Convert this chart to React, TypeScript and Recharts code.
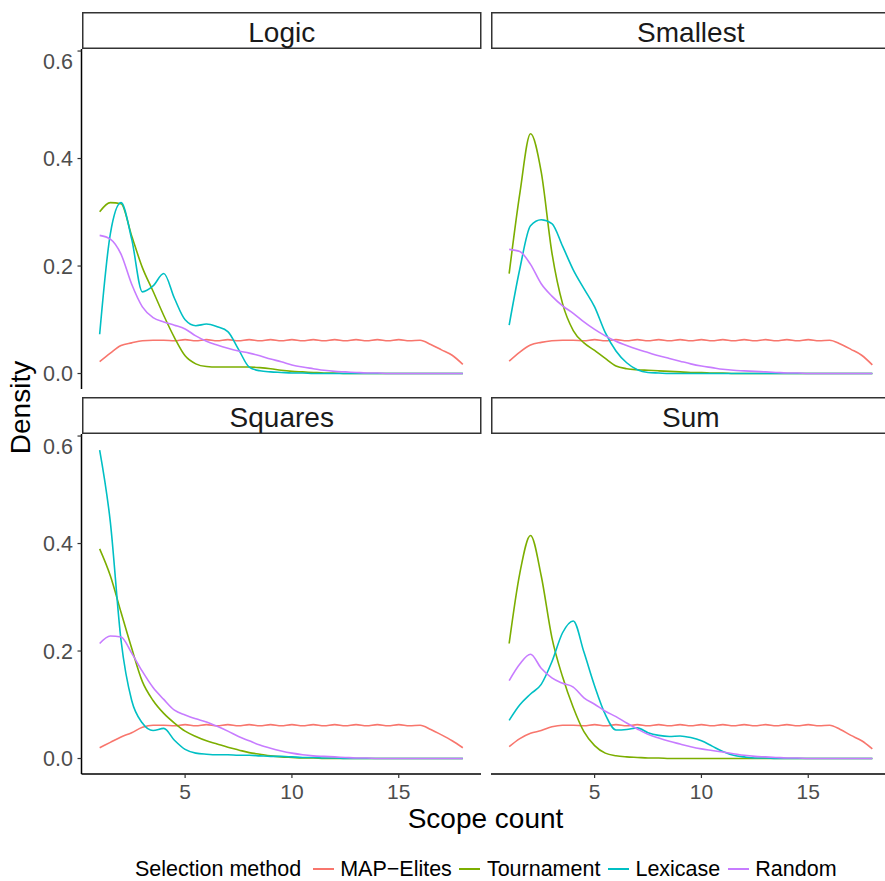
import { LineChart, Line, XAxis, YAxis } from 'recharts'

const scope = [1, 1.5, 2, 2.5, 3, 3.5, 4, 4.5, 5, 5.5, 6, 6.5, 7, 7.5, 8, 8.5, 9, 9.5, 10, 10.5, 11, 11.5, 12, 12.5, 13, 13.5, 14, 14.5, 15, 15.5, 16, 16.5, 17, 17.5, 18]

// Logic
const logicMap = [0.022, 0.038, 0.052, 0.057, 0.061, 0.062, 0.062, 0.061, 0.063, 0.061, 0.063, 0.061, 0.063, 0.061, 0.063, 0.061, 0.063, 0.061, 0.063, 0.061, 0.063, 0.061, 0.063, 0.061, 0.063, 0.061, 0.063, 0.061, 0.063, 0.061, 0.062, 0.054, 0.044, 0.034, 0.017]
const logicTour = [0.301, 0.318, 0.316, 0.256, 0.197, 0.153, 0.108, 0.067, 0.033, 0.018, 0.013, 0.012, 0.012, 0.012, 0.012, 0.011, 0.009, 0.006, 0.004, 0.003, 0.002, 0.001, 0.001, 0, 0, 0, 0, 0, 0, 0, 0, 0, 0, 0, 0]
const logicLex = [0.073, 0.26, 0.318, 0.25, 0.152, 0.163, 0.186, 0.14, 0.1, 0.089, 0.092, 0.087, 0.078, 0.045, 0.012, 0.005, 0.003, 0.002, 0.001, 0.001, 0, 0, 0, 0, 0, 0, 0, 0, 0, 0, 0, 0, 0, 0, 0]
const logicRand = [0.257, 0.25, 0.222, 0.166, 0.124, 0.104, 0.096, 0.09, 0.083, 0.07, 0.06, 0.053, 0.047, 0.042, 0.038, 0.033, 0.027, 0.022, 0.016, 0.012, 0.009, 0.006, 0.004, 0.003, 0.002, 0.001, 0.001, 0, 0, 0, 0, 0, 0, 0, 0]

// Smallest
const smallMap = [0.023, 0.04, 0.053, 0.058, 0.061, 0.062, 0.062, 0.061, 0.063, 0.061, 0.063, 0.061, 0.063, 0.061, 0.063, 0.061, 0.063, 0.061, 0.063, 0.061, 0.063, 0.061, 0.063, 0.061, 0.063, 0.061, 0.063, 0.061, 0.063, 0.061, 0.062, 0.055, 0.045, 0.034, 0.016]
const smallTour = [0.186, 0.335, 0.446, 0.375, 0.225, 0.13, 0.08, 0.057, 0.043, 0.028, 0.014, 0.009, 0.007, 0.006, 0.005, 0.004, 0.003, 0.002, 0.002, 0.001, 0.001, 0, 0, 0, 0, 0, 0, 0, 0, 0, 0, 0, 0, 0, 0]
const smallLex = [0.09, 0.195, 0.275, 0.286, 0.279, 0.237, 0.193, 0.158, 0.124, 0.076, 0.042, 0.02, 0.007, 0.002, 0.001, 0, 0, 0, 0, 0, 0, 0, 0, 0, 0, 0, 0, 0, 0, 0, 0, 0, 0, 0, 0]
const smallRand = [0.231, 0.227, 0.203, 0.167, 0.144, 0.126, 0.112, 0.096, 0.082, 0.07, 0.06, 0.052, 0.045, 0.039, 0.033, 0.028, 0.023, 0.018, 0.014, 0.011, 0.008, 0.006, 0.005, 0.004, 0.003, 0.002, 0.001, 0.001, 0, 0, 0, 0, 0, 0, 0]

// Squares
const sqMap = [0.02, 0.03, 0.04, 0.048, 0.058, 0.062, 0.062, 0.061, 0.063, 0.061, 0.063, 0.061, 0.063, 0.061, 0.063, 0.061, 0.063, 0.061, 0.063, 0.061, 0.063, 0.061, 0.063, 0.061, 0.063, 0.061, 0.063, 0.061, 0.063, 0.061, 0.062, 0.054, 0.044, 0.033, 0.02]
const sqTour = [0.39, 0.34, 0.272, 0.205, 0.143, 0.108, 0.084, 0.066, 0.051, 0.041, 0.033, 0.027, 0.021, 0.016, 0.011, 0.008, 0.005, 0.003, 0.002, 0.001, 0.001, 0, 0, 0, 0, 0, 0, 0, 0, 0, 0, 0, 0, 0, 0]
const sqLex = [0.574, 0.44, 0.22, 0.108, 0.066, 0.052, 0.056, 0.034, 0.017, 0.01, 0.008, 0.007, 0.007, 0.006, 0.006, 0.005, 0.004, 0.004, 0.003, 0.002, 0.002, 0.001, 0.001, 0, 0, 0, 0, 0, 0, 0, 0, 0, 0, 0, 0]
const sqRand = [0.214, 0.228, 0.226, 0.196, 0.162, 0.132, 0.11, 0.09, 0.081, 0.074, 0.068, 0.06, 0.051, 0.041, 0.033, 0.025, 0.019, 0.014, 0.01, 0.007, 0.005, 0.004, 0.003, 0.002, 0.001, 0.001, 0, 0, 0, 0, 0, 0, 0, 0, 0]

// Sum
const sumMap = [0.022, 0.037, 0.047, 0.052, 0.059, 0.062, 0.062, 0.061, 0.063, 0.061, 0.063, 0.061, 0.063, 0.061, 0.063, 0.061, 0.063, 0.061, 0.063, 0.061, 0.063, 0.061, 0.063, 0.061, 0.063, 0.061, 0.063, 0.061, 0.063, 0.061, 0.062, 0.054, 0.043, 0.033, 0.018]
const sumTour = [0.214, 0.345, 0.415, 0.34, 0.225, 0.152, 0.095, 0.05, 0.024, 0.01, 0.005, 0.003, 0.002, 0.001, 0.001, 0, 0, 0, 0, 0, 0, 0, 0, 0, 0, 0, 0, 0, 0, 0, 0, 0, 0, 0, 0]
const sumLex = [0.071, 0.1, 0.12, 0.138, 0.18, 0.234, 0.256, 0.198, 0.135, 0.082, 0.053, 0.054, 0.057, 0.048, 0.043, 0.041, 0.042, 0.039, 0.033, 0.023, 0.013, 0.006, 0.003, 0.001, 0.001, 0, 0, 0, 0, 0, 0, 0, 0, 0, 0]
const sumRand = [0.145, 0.176, 0.194, 0.168, 0.15, 0.14, 0.133, 0.113, 0.101, 0.088, 0.078, 0.066, 0.055, 0.045, 0.038, 0.032, 0.027, 0.022, 0.018, 0.015, 0.012, 0.009, 0.006, 0.004, 0.003, 0.002, 0.001, 0.001, 0, 0, 0, 0, 0, 0, 0]

const methods = ['MAP−Elites', 'Tournament', 'Lexicase', 'Random']
const colors = ['#F8766D', '#7CAE00', '#00BFC4', '#C77CFF']
const seriesKeys = ['map', 'tour', 'lex', 'rand']
const yTicks = [0, 0.2, 0.4, 0.6]
const xTicks = [5, 10, 15]

const FONT = '"Liberation Sans", Arial, Helvetica, sans-serif'
const PLOT_W = 399.5
const PLOT_H = 340
const Y_AXIS_W = 81.5
const X_AXIS_H = 34

function buildRows(series: number[][]) {
  return scope.map((x, i) => {
    const row: Record<string, number> = { x }
    seriesKeys.forEach((k, j) => {
      row[k] = series[j][i]
    })
    return row
  })
}

interface PanelProps {
  title: string
  series: number[][]
  left: number
  top: number
  showY: boolean
  showX: boolean
}

function Panel({ title, series, left, top, showY, showX }: PanelProps) {
  const yW = showY ? Y_AXIS_W : 0
  const xH = showX ? X_AXIS_H : 0
  const stripTop = top - 36.5
  return (
    <>
      <div style={{ position: 'absolute', left: left - yW, top }}>
        <LineChart
          width={PLOT_W + yW}
          height={PLOT_H + xH}
          data={buildRows(series)}
          margin={{ top: 0, right: 0, bottom: 0, left: 0 }}
        >
          <XAxis
            dataKey="x"
            type="number"
            domain={[0.15, 18.85]}
            ticks={xTicks}
            allowDataOverflow
            hide={!showX}
            height={xH}
            axisLine={{ stroke: '#000', strokeWidth: 1.5 }}
            tickLine={{ stroke: '#333', strokeWidth: 1.2 }}
            tickSize={4}
            tickMargin={6}
            tick={{ fontSize: 21, fill: '#4d4d4d', fontFamily: FONT }}
          />
          <YAxis
            type="number"
            domain={[-0.0288, 0.6038]}
            ticks={yTicks}
            allowDataOverflow
            hide={!showY}
            width={yW}
            axisLine={{ stroke: '#000', strokeWidth: 1.5 }}
            tickLine={{ stroke: '#333', strokeWidth: 1.2 }}
            tickSize={4}
            tickMargin={4.5}
            tickFormatter={(v: number) => v.toFixed(1)}
            tick={{ fontSize: 21.5, fill: '#4d4d4d', fontFamily: FONT }}
          />
          {seriesKeys.map((k, j) => (
            <Line
              key={k}
              dataKey={k}
              type="monotone"
              stroke={colors[j]}
              strokeWidth={1.6}
              dot={false}
              activeDot={false}
              isAnimationActive={false}
            />
          ))}
        </LineChart>
      </div>
      <svg
        style={{ position: 'absolute', left, top: stripTop, overflow: 'visible', pointerEvents: 'none' }}
        width={PLOT_W}
        height={37}
      >
        <rect x={0.75} y={0.75} width={PLOT_W - 1.5} height={35.5} fill="#fff" stroke="#333" strokeWidth={1.5} />
        <text
          x={PLOT_W / 2}
          y={29.5}
          textAnchor="middle"
          fontSize={28}
          fill="#1a1a1a"
          fontFamily={FONT}
        >
          {title}
        </text>
      </svg>
    </>
  )
}

export default function App() {
  return (
    <div
      style={{
        position: 'absolute',
        left: 0,
        top: 0,
        width: 885,
        height: 881,
        overflow: 'hidden',
        background: '#fff',
        fontFamily: FONT,
      }}
    >
      <Panel title="Logic" series={[logicMap, logicTour, logicLex, logicRand]} left={81.5} top={48.7} showY showX={false} />
      <Panel title="Smallest" series={[smallMap, smallTour, smallLex, smallRand]} left={490.5} top={48.7} showY={false} showX={false} />
      <Panel title="Squares" series={[sqMap, sqTour, sqLex, sqRand]} left={81.5} top={433.7} showY showX />
      <Panel title="Sum" series={[sumMap, sumTour, sumLex, sumRand]} left={490.5} top={433.7} showY={false} showX />

      <svg style={{ position: 'absolute', left: 0, top: 0, pointerEvents: 'none' }} width={885} height={881}>
        <text x={485.5} y={828} textAnchor="middle" fontSize={28} fill="#000" fontFamily={FONT}>
          Scope count
        </text>
        <text transform="translate(30, 407.5) rotate(-90)" textAnchor="middle" fontSize={28} fill="#000" fontFamily={FONT}>
          Density
        </text>
      </svg>

      <div
        style={{
          position: 'absolute',
          left: 135,
          top: 855,
          height: 28,
          display: 'flex',
          alignItems: 'center',
          fontSize: 21.5,
          whiteSpace: 'nowrap',
          color: '#000',
        }}
      >
        <span style={{ marginRight: 11.5 }}>Selection method</span>
        {methods.map((m, j) => (
          <span key={m} style={{ display: 'flex', alignItems: 'center', marginRight: 7.5 }}>
            <span style={{ display: 'inline-block', width: 21, height: 1.6, background: colors[j], marginRight: 6.5 }} />
            <span>{m}</span>
          </span>
        ))}
      </div>
    </div>
  )
}
